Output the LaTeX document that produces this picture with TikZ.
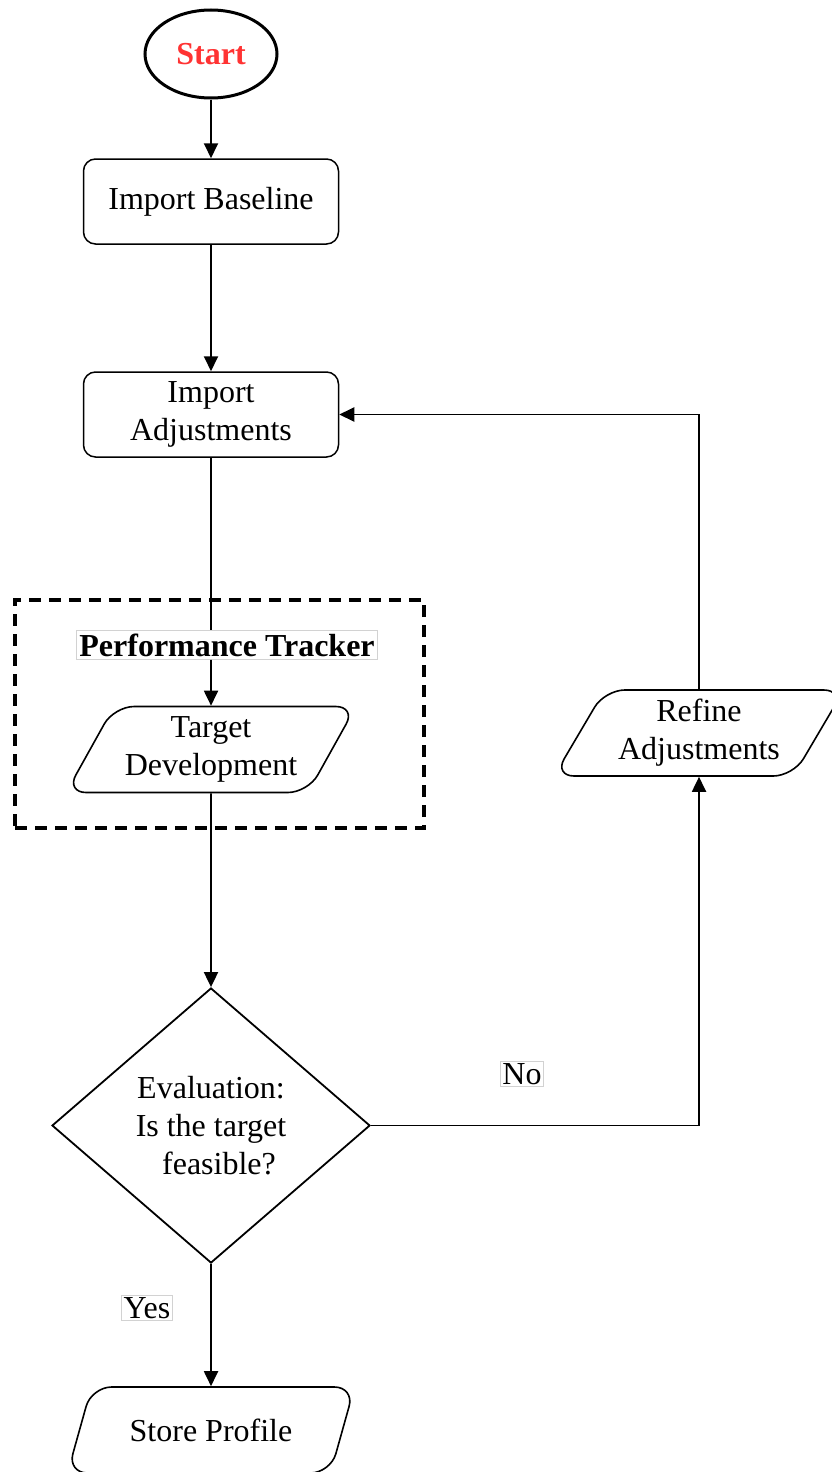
\documentclass[tikz,border=0pt]{standalone}
\usepackage{fontspec}
\setmainfont{Liberation Serif}
\usetikzlibrary{shapes.geometric,arrows.meta}
\definecolor{startred}{RGB}{255,51,51}
\begin{document}
\begin{tikzpicture}[x=0.5pt,y=-0.5pt,
  font=\fontsize{16}{19}\selectfont,
  conn/.style={line width=0.95pt},
  arr/.style={conn,-{Triangle[length=7.5pt,width=7pt]}},
  proc/.style={draw, rounded corners=6pt, minimum width=127.5pt, minimum height=42.5pt,
    align=center, inner sep=2pt, line width=0.75pt},
  io/.style={draw, trapezium, trapezium left angle=58, trapezium right angle=122,
    trapezium stretches=true, minimum width=145pt, minimum height=43pt,
    rounded corners=10pt, align=center, inner sep=1pt, line width=0.8pt},
  lbl/.style={draw=gray!35, fill=white, inner sep=1pt, line width=0.4pt},
  groupbox/.style={draw, dash pattern=on 6pt off 4pt, line width=1.6pt,
    minimum width=204.5pt, minimum height=114pt, inner sep=0pt}
]
% canvas
\fill[white] (0,0) rectangle (831,1472);
\useasboundingbox (0,0) rectangle (831,1472);

% grouping frame of the tracker stage
\node[groupbox] (grp) at (219.5,714) {};

% nodes
\node[draw, ellipse, line width=1.5pt, minimum width=66pt, minimum height=44pt,
  text=startred, font=\fontsize{16}{19}\selectfont\bfseries] (start) at (211,54) {Start};
\node[proc] (base) at (211,201.5) {Import Baseline};
\node[proc] (adj) at (211,414.5) {Import\\Adjustments};
\node[lbl, font=\fontsize{16}{19}\selectfont\bfseries, inner sep=1.5pt] (pt) at (227,645) {Performance Tracker};
\node[io] (td) at (211,749.5) {Target\\Development};
\node[io] (ref) at (699,733) {Refine\\Adjustments};
\node[draw, diamond, line width=0.9pt, minimum width=159pt, minimum height=137.5pt,
  inner sep=0pt, align=center] (eval) at (211,1125.5) {Evaluation:\\Is the target\\\ \ feasible?};
\node[io] (sp) at (211,1430) {Store Profile};

% branch labels
\node[lbl] (no) at (522,1074) {No};
\node[lbl] (yes) at (147,1308) {Yes};

% connectors
\draw[arr] (start) -- (base);
\draw[arr] (base) -- (adj);
\draw[conn] (adj.south) -- (adj.south |- pt.north);
\draw[arr] (adj.south |- pt.south) -- (td.north);
\draw[arr] (td) -- (eval);
\draw[arr] (eval) -- (sp);
\draw[arr] (eval.east) -| (ref.south);
\draw[arr] (ref.north) |- (adj.east);
\end{tikzpicture}
\end{document}
